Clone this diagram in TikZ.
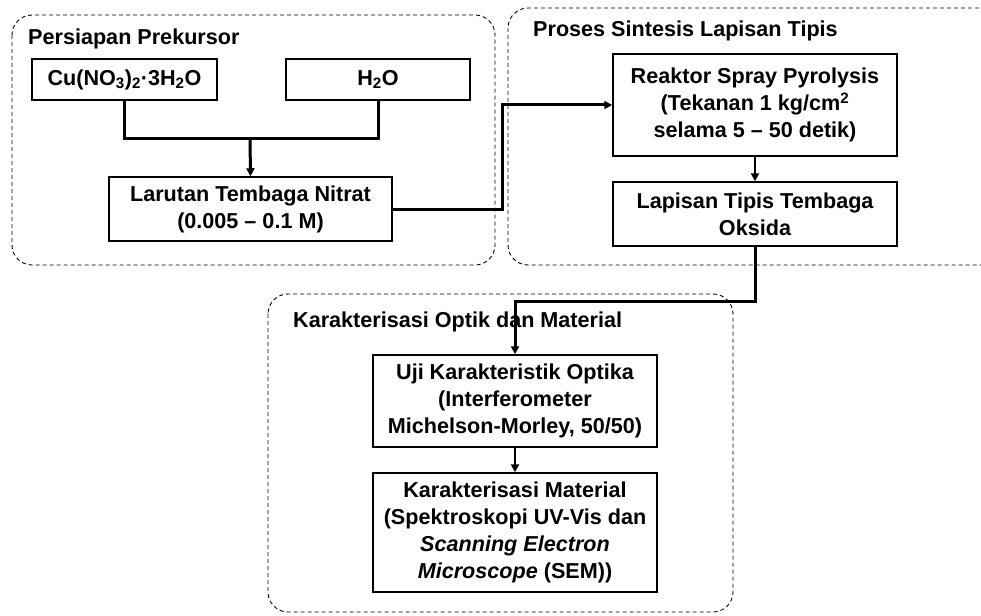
\documentclass[tikz,border=0pt]{standalone}
\usepackage{fontspec}
\setmainfont{Liberation Sans}
\usetikzlibrary{arrows.meta}

\tikzset{
    stepbox/.style={draw, line width=1.5pt, align=center, inner sep=0pt,
        font=\fontsize{21.6}{27}\selectfont\bfseries},
    grouptitle/.style={anchor=west, inner sep=0pt,
        font=\fontsize{21.6}{27}\selectfont\bfseries},
    groupframe/.style={draw, line width=0.9pt, rounded corners=20pt,
        dash pattern=on 4pt off 3pt},
    mainline/.style={line width=3pt},
    thinline/.style={line width=2pt},
    tip/.style={-{Triangle[length=8pt,width=8pt]}}
}

\begin{document}
\begin{tikzpicture}[x=1pt,y=-1pt]

    \useasboundingbox (0,0) rectangle (981,615);
    \begin{scope}
    \clip (0,0) rectangle (981,615);

    % these are the dashed groups
    \draw[groupframe] (12,15) rectangle (495,265);
    \draw[groupframe] (508,8) rectangle (1010,265);
    \draw[groupframe] (268,294) rectangle (733,612);
    \end{scope}

    \node[grouptitle] (t1) at (28,39) {Persiapan Prekursor};
    \node[grouptitle] (t2) at (533,31) {Proses Sintesis Lapisan Tipis};
    \node[grouptitle] (t3) at (293,322) {Karakterisasi Optik dan Material};

    % these are the steps
    \node[stepbox, minimum width=185pt, minimum height=41pt] (cu) at (124.5,79.5)
        {Cu(NO\textsubscript{3})\textsubscript{2}·3H\textsubscript{2}O};
    \node[stepbox, minimum width=184pt, minimum height=41pt] (h2o) at (378,79.5)
        {H\textsubscript{2}O};
    \node[stepbox, minimum width=283pt, minimum height=64pt] (larutan) at (250.5,209)
        {Larutan Tembaga Nitrat\\(0.005 -- 0.1 M)};
    \node[stepbox, minimum width=284pt, minimum height=102pt] (reaktor) at (755,105)
        {Reaktor Spray Pyrolysis\\(Tekanan 1 kg/cm\textsuperscript{2}\\selama 5 -- 50 detik)};
    \node[stepbox, minimum width=284pt, minimum height=64pt] (lapisan) at (755,214)
        {Lapisan Tipis Tembaga\\Oksida};
    \node[stepbox, minimum width=284pt, minimum height=92pt] (uji) at (515,401)
        {Uji Karakteristik Optika\\(Interferometer\\Michelson-Morley, 50/50)};
    \node[stepbox, minimum width=284pt, minimum height=119pt] (material) at (515,532.5)
        {Karakterisasi Material\\(Spektroskopi UV-Vis dan\\\textit{Scanning Electron}\\\textit{Microscope} (SEM))};

    \coordinate (join) at (250,138);
    \coordinate (bend1) at (502,209);
    \coordinate (bend2) at (755,301);

    % these are the connectors
    \draw[mainline] (cu.south) |- (join) -| (h2o.south);
    \draw[mainline, tip] (join) -- (larutan.north);
    \draw[mainline, tip] (larutan.east) -- (bend1) |- (reaktor.west);
    \draw[thinline, tip] (reaktor.south) -- (lapisan.north);
    \draw[mainline, tip] (lapisan.south) -- (bend2) -| (uji.north);
    \draw[thinline, tip] (uji.south) -- (material.north);

\end{tikzpicture}
\end{document}
